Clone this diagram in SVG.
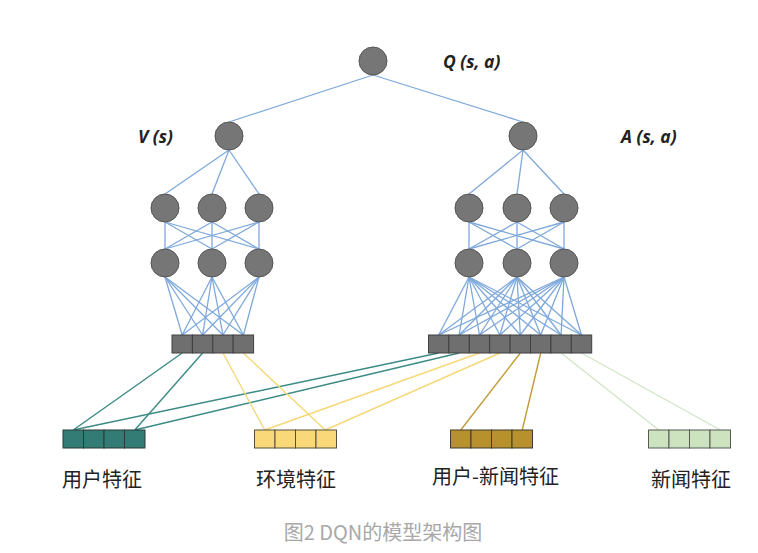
<svg xmlns="http://www.w3.org/2000/svg" width="758" height="553" viewBox="0 0 758 553">
<style>
.bl{stroke:#7ea8dc;stroke-width:1.3;fill:none}
.tl{stroke:#3b8a84;stroke-width:1.4}
.yl{stroke:#f6d878;stroke-width:1.4}
.gl{stroke:#c39a36;stroke-width:1.4}
.nl{stroke:#d3e6c6;stroke-width:1.4}
.n{fill:#767676;stroke:#555;stroke-width:1}
.c{fill:#6f6f6f;stroke:#404040;stroke-width:1}
.lab{font-family:"Open Sans","DejaVu Sans",sans-serif;font-weight:bold;font-style:italic;font-size:17.5px;fill:#222}
.cn{font-family:"Noto Sans CJK SC","Noto Sans",sans-serif;font-size:20px;fill:#222}
.cap{font-family:"Noto Sans CJK SC","Noto Sans",sans-serif;font-size:20px;fill:#a8a8a8}
</style>
<rect width="758" height="553" fill="#fff"/>
<g id="connectors">
<g class="bl">
<line x1="373" y1="75" x2="229" y2="122"/>
<line x1="373" y1="75" x2="523" y2="122"/>
<line x1="229" y1="150" x2="165" y2="194"/>
<line x1="229" y1="150" x2="212" y2="194"/>
<line x1="229" y1="150" x2="259" y2="194"/>
<line x1="523" y1="150" x2="469" y2="194"/>
<line x1="523" y1="150" x2="517" y2="194"/>
<line x1="523" y1="150" x2="564" y2="194"/>
<line x1="165" y1="222" x2="165" y2="249"/><line x1="165" y1="222" x2="212" y2="249"/><line x1="165" y1="222" x2="259" y2="249"/>
<line x1="212" y1="222" x2="165" y2="249"/><line x1="212" y1="222" x2="212" y2="249"/><line x1="212" y1="222" x2="259" y2="249"/>
<line x1="259" y1="222" x2="165" y2="249"/><line x1="259" y1="222" x2="212" y2="249"/><line x1="259" y1="222" x2="259" y2="249"/>
<line x1="469" y1="222" x2="469" y2="249"/><line x1="469" y1="222" x2="517" y2="249"/><line x1="469" y1="222" x2="564" y2="249"/>
<line x1="517" y1="222" x2="469" y2="249"/><line x1="517" y1="222" x2="517" y2="249"/><line x1="517" y1="222" x2="564" y2="249"/>
<line x1="564" y1="222" x2="469" y2="249"/><line x1="564" y1="222" x2="517" y2="249"/><line x1="564" y1="222" x2="564" y2="249"/>
<line x1="165" y1="277" x2="182.2" y2="335"/><line x1="165" y1="277" x2="202.6" y2="335"/><line x1="165" y1="277" x2="223" y2="335"/><line x1="165" y1="277" x2="243.4" y2="335"/>
<line x1="212" y1="277" x2="182.2" y2="335"/><line x1="212" y1="277" x2="202.6" y2="335"/><line x1="212" y1="277" x2="223" y2="335"/><line x1="212" y1="277" x2="243.4" y2="335"/>
<line x1="259" y1="277" x2="182.2" y2="335"/><line x1="259" y1="277" x2="202.6" y2="335"/><line x1="259" y1="277" x2="223" y2="335"/><line x1="259" y1="277" x2="243.4" y2="335"/>
<line x1="469" y1="277" x2="438.7" y2="335"/><line x1="469" y1="277" x2="459.1" y2="335"/><line x1="469" y1="277" x2="479.5" y2="335"/><line x1="469" y1="277" x2="499.9" y2="335"/><line x1="469" y1="277" x2="520.3" y2="335"/><line x1="469" y1="277" x2="540.7" y2="335"/><line x1="469" y1="277" x2="561.1" y2="335"/><line x1="469" y1="277" x2="581.5" y2="335"/>
<line x1="517" y1="277" x2="438.7" y2="335"/><line x1="517" y1="277" x2="459.1" y2="335"/><line x1="517" y1="277" x2="479.5" y2="335"/><line x1="517" y1="277" x2="499.9" y2="335"/><line x1="517" y1="277" x2="520.3" y2="335"/><line x1="517" y1="277" x2="540.7" y2="335"/><line x1="517" y1="277" x2="561.1" y2="335"/><line x1="517" y1="277" x2="581.5" y2="335"/>
<line x1="564" y1="277" x2="438.7" y2="335"/><line x1="564" y1="277" x2="459.1" y2="335"/><line x1="564" y1="277" x2="479.5" y2="335"/><line x1="564" y1="277" x2="499.9" y2="335"/><line x1="564" y1="277" x2="520.3" y2="335"/><line x1="564" y1="277" x2="540.7" y2="335"/><line x1="564" y1="277" x2="561.1" y2="335"/><line x1="564" y1="277" x2="581.5" y2="335"/>
</g>
<line class="tl" x1="182.2" y1="353" x2="73.25" y2="430"/>
<line class="tl" x1="202.6" y1="353" x2="134.75" y2="430"/>
<line class="tl" x1="438.7" y1="353" x2="73.25" y2="430"/>
<line class="tl" x1="459.1" y1="353" x2="134.75" y2="430"/>
<line class="yl" x1="223" y1="353" x2="264.75" y2="430"/>
<line class="yl" x1="243.4" y1="353" x2="325.25" y2="430"/>
<line class="yl" x1="479.5" y1="353" x2="264.75" y2="430"/>
<line class="yl" x1="499.9" y1="353" x2="325.25" y2="430"/>
<line class="gl" x1="520.3" y1="353" x2="460.75" y2="430"/>
<line class="gl" x1="540.7" y1="353" x2="522.25" y2="430"/>
<line class="nl" x1="561.1" y1="353" x2="658.75" y2="430"/>
<line class="nl" x1="581.5" y1="353" x2="720.25" y2="430"/>
</g>
<g id="node-q"><circle class="n" cx="373" cy="61" r="14"/><text class="lab" x="443" y="68">Q (s, a)</text></g>
<g id="node-v"><circle class="n" cx="229" cy="136" r="14"/><text class="lab" x="138" y="143">V (s)</text></g>
<g id="node-a"><circle class="n" cx="523" cy="136" r="14"/><text class="lab" x="621" y="143">A (s, a)</text></g>
<g id="left-hidden1"><circle class="n" cx="165" cy="208" r="14"/><circle class="n" cx="212" cy="208" r="14"/><circle class="n" cx="259" cy="208" r="14"/></g>
<g id="left-hidden2"><circle class="n" cx="165" cy="263" r="14"/><circle class="n" cx="212" cy="263" r="14"/><circle class="n" cx="259" cy="263" r="14"/></g>
<g id="right-hidden1"><circle class="n" cx="469" cy="208" r="14"/><circle class="n" cx="517" cy="208" r="14"/><circle class="n" cx="564" cy="208" r="14"/></g>
<g id="right-hidden2"><circle class="n" cx="469" cy="263" r="14"/><circle class="n" cx="517" cy="263" r="14"/><circle class="n" cx="564" cy="263" r="14"/></g>
<g id="left-input">
<rect class="c" x="172" y="335" width="20.4" height="18"/><rect class="c" x="192.4" y="335" width="20.4" height="18"/><rect class="c" x="212.8" y="335" width="20.4" height="18"/><rect class="c" x="233.2" y="335" width="20.4" height="18"/>
</g>
<g id="right-input">
<rect class="c" x="428.5" y="335" width="20.4" height="18"/><rect class="c" x="448.9" y="335" width="20.4" height="18"/><rect class="c" x="469.3" y="335" width="20.4" height="18"/><rect class="c" x="489.7" y="335" width="20.4" height="18"/><rect class="c" x="510.1" y="335" width="20.4" height="18"/><rect class="c" x="530.5" y="335" width="20.4" height="18"/><rect class="c" x="550.9" y="335" width="20.4" height="18"/><rect class="c" x="571.3" y="335" width="20.4" height="18"/>
</g>
<g id="user-features" fill="#337b75" stroke="#2b3a38" stroke-width="1">
<rect x="63" y="430" width="20.5" height="18"/><rect x="83.5" y="430" width="20.5" height="18"/><rect x="104" y="430" width="20.5" height="18"/><rect x="124.5" y="430" width="20.5" height="18"/>
<text class="cn" x="62" y="487" stroke="none">用户特征</text>
</g>
<g id="env-features" fill="#f8d878" stroke="#55503a" stroke-width="1">
<rect x="254.5" y="430" width="20.5" height="18"/><rect x="275" y="430" width="20.5" height="18"/><rect x="295.5" y="430" width="20.5" height="18"/><rect x="316" y="430" width="20.5" height="18"/>
<text class="cn" x="256" y="487" stroke="none">环境特征</text>
</g>
<g id="user-news-features" fill="#b6912e" stroke="#3f3a2c" stroke-width="1">
<rect x="450.5" y="430" width="20.5" height="18"/><rect x="471" y="430" width="20.5" height="18"/><rect x="491.5" y="430" width="20.5" height="18"/><rect x="512" y="430" width="20.5" height="18"/>
<text class="cn" x="432" y="484" stroke="none">用户-新闻特征</text>
</g>
<g id="news-features" fill="#cde2be" stroke="#555a52" stroke-width="1">
<rect x="648.5" y="430" width="20.5" height="18"/><rect x="669" y="430" width="20.5" height="18"/><rect x="689.5" y="430" width="20.5" height="18"/><rect x="710" y="430" width="20.5" height="18"/>
<text class="cn" x="651" y="487" stroke="none">新闻特征</text>
</g>
<text class="cap" x="383" y="540" text-anchor="middle">图2 DQN的模型架构图</text>
</svg>
